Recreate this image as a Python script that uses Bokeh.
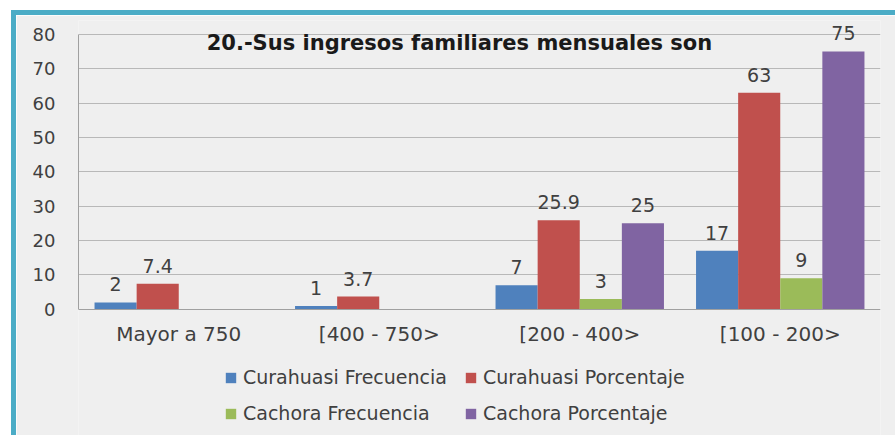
from bokeh.plotting import figure
from bokeh.models import ColumnDataSource, Legend, LegendItem, Label, LabelSet, FixedTicker
from bokeh.embed import file_html
from bokeh.resources import INLINE
from bokeh.core.properties import value

categories = ["Mayor a 750", "[400 - 750>", "[200 - 400>", "[100 - 200>"]
series_names = ["Curahuasi Frecuencia", "Curahuasi Porcentaje", "Cachora Frecuencia", "Cachora Porcentaje"]
curahuasi_frec = [2, 1, 7, 17]
curahuasi_pct = [7.4, 3.7, 25.9, 63]
cachora_frec = [None, None, 3, 9]
cachora_pct = [None, None, 25, 75]
y_ticks = [0, 10, 20, 30, 40, 50, 60, 70, 80]
title_text = "20.-Sus ingresos familiares mensuales son"

colors = ["#4F81BD", "#C0504D", "#9BBB59", "#8064A2"]
series = [curahuasi_frec, curahuasi_pct, cachora_frec, cachora_pct]
offsets = [-0.315, -0.105, 0.105, 0.315]
bar_w = 0.21
FONT = "DejaVu Sans"

p = figure(output_backend="svg", toolbar_location=None,
           frame_width=802, frame_height=415,
           x_range=(0, 4), y_range=(-36.7, 84),
           min_border_left=62, min_border_right=15, min_border_top=5, min_border_bottom=0,
           background_fill_color="#efefef", border_fill_color="#efefef",
           outline_line_color=None,
           styles={"border-left": "5px solid #4BACC6", "border-top": "5px solid #4BACC6",
                   "margin-left": "11px", "margin-top": "10px"})

renderers = []
for vals, off, col in zip(series, offsets, colors):
    xs, ys, labels = [], [], []
    for i, v in enumerate(vals):
        if v is None:
            continue
        xs.append(i + 0.5 + off)
        ys.append(v)
        labels.append(("%g" % v))
    src = ColumnDataSource(dict(x=xs, top=ys, label=labels))
    r = p.vbar(x="x", top="top", bottom=0, width=bar_w, source=src,
               fill_color=col, line_color=None)
    renderers.append(r)
    p.add_layout(LabelSet(x="x", y="top", text="label", source=src, text_align="center",
                          text_baseline="middle", y_offset=18, text_font=value(FONT),
                          text_font_size="19px", text_color="#404040"))

p.add_layout(Label(x=1.9, y=77.4, text=title_text, text_align="center",
                   text_baseline="middle", text_font=FONT, text_font_size="21px",
                   text_font_style="bold", text_color="#1a1a1a"))

# axes
p.xaxis.fixed_location = 0
p.xaxis.ticker = FixedTicker(ticks=[0.5, 1.5, 2.5, 3.5])
p.xaxis.major_label_overrides = {0.5: categories[0], 1.5: categories[1],
                                 2.5: categories[2], 3.5: categories[3]}
p.xaxis.major_tick_line_color = None
p.xaxis.minor_tick_line_color = None
p.xaxis.major_tick_out = 0
p.xaxis.major_tick_in = 0
p.xaxis.axis_line_color = "#a0a0a0"
p.xaxis.major_label_standoff = 13
p.xaxis.major_label_text_font = FONT
p.xaxis.major_label_text_font_size = "20px"
p.xaxis.major_label_text_color = "#404040"

p.yaxis.ticker = FixedTicker(ticks=y_ticks)
p.yaxis.bounds = (0, 80)
p.yaxis.major_tick_line_color = None
p.yaxis.minor_tick_line_color = None
p.yaxis.major_tick_out = 0
p.yaxis.major_tick_in = 0
p.yaxis.axis_line_color = "#a0a0a0"
p.yaxis.major_label_standoff = 23
p.yaxis.major_label_text_font = FONT
p.yaxis.major_label_text_font_size = "18px"
p.yaxis.major_label_text_color = "#404040"

p.xgrid.grid_line_color = None
p.ygrid.grid_line_color = "#b8b8b8"
p.ygrid.ticker = FixedTicker(ticks=y_ticks[1:])

legend = Legend(items=[LegendItem(label=n, renderers=[r]) for n, r in zip(series_names, renderers)],
                ncols=2, location=(146, 11), orientation="horizontal",
                background_fill_alpha=0, border_line_color=None,
                label_text_font=FONT, label_text_font_size="19px", label_text_color="#404040",
                glyph_width=13, glyph_height=13, label_height=20, label_width=207, spacing=14,
                label_standoff=6, padding=4, margin=0)
p.add_layout(legend, "center")

html = file_html(p, INLINE)
html = html.replace("<body>", '<body style="background:#AEE7F7;">', 1)
open("out.html", "w").write(html)
